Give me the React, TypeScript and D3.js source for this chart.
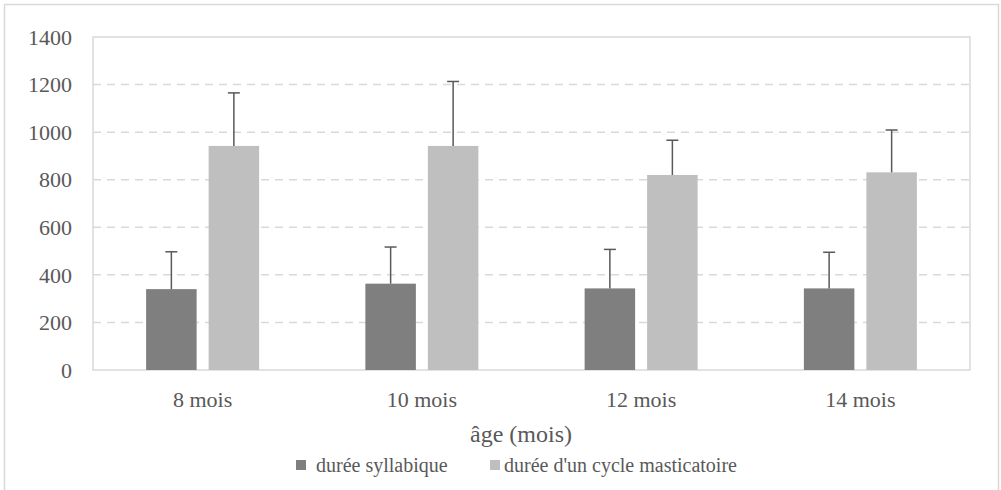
import React from 'react';
import * as d3 from 'd3';

const categories = ['8 mois', '10 mois', '12 mois', '14 mois'];
const seriesNames = ['durée syllabique', "durée d'un cycle masticatoire"];
const syllabique = [340, 363, 343, 343];
const syllabiqueSD = [157, 154, 164, 152];
const cycle = [942, 942, 820, 831];
const cycleSD = [223, 271, 146, 178];
const yTicks = [0, 200, 400, 600, 800, 1000, 1200, 1400];
const colors = ['#7f7f7f', '#bfbfbf'];

export default function App() {
  const width = 1001;
  const height = 490;
  const left = 93;
  const right = 970;
  const top = 37;
  const bottom = 370;
  const textColor = '#595959';
  const txt = (size: number): React.CSSProperties => ({
    fontFamily:
      "'Liberation Serif', Tinos, 'Times New Roman', Times, 'DejaVu Serif', 'Noto Serif', 'FreeSerif', 'Nimbus Roman', 'Nimbus Roman No9 L', serif",
    fontSize: size,
    fill: textColor,
  });

  const x = d3.scaleBand().domain(categories).range([left, right]).padding(0);
  const x1 = d3.scaleBand().domain(seriesNames).range([-56.5, 56.5]).paddingInner(0.192);
  const y = d3.scaleLinear().domain([0, 1400]).range([bottom, top]);

  const series = [
    { name: seriesNames[0], values: syllabique, sd: syllabiqueSD, color: colors[0] },
    { name: seriesNames[1], values: cycle, sd: cycleSD, color: colors[1] },
  ];

  return (
    <svg width={width} height={height} style={{ position: 'absolute', left: 0, top: 0 }}>
      <rect x={0} y={0} width={width} height={height} fill="#fff" />
      <rect x={4.5} y={4.5} width={994} height={height + 10} fill="none" stroke="#d9d9d9" strokeWidth={1.5} />

      {/* grid */}
      {yTicks.filter(t => t > 0 && t < 1400).map(t => (
        <line key={t} x1={left} x2={right} y1={y(t)} y2={y(t)} stroke="#d9d9d9" strokeWidth={1.5} strokeDasharray="8,6" />
      ))}
      <rect x={left} y={top} width={right - left} height={bottom - top} fill="none" stroke="#d9d9d9" strokeWidth={1.5} />

      {/* bars */}
      {series.map(s => (
        <g key={s.name}>
          {categories.map((c, i) => {
            const cx = x(c)! + x.bandwidth() / 2;
            const bx = cx + x1(s.name)!;
            const bw = x1.bandwidth();
            const mid = bx + bw / 2;
            const topVal = s.values[i] + s.sd[i];
            return (
              <g key={c}>
                <rect x={bx} y={y(s.values[i])} width={bw} height={y(0) - y(s.values[i])} fill={s.color} />
                <line x1={mid} x2={mid} y1={y(s.values[i])} y2={y(topVal)} stroke="#595959" strokeWidth={1.5} />
                <line x1={mid - 6} x2={mid + 6} y1={y(topVal)} y2={y(topVal)} stroke="#595959" strokeWidth={1.5} />
              </g>
            );
          })}
        </g>
      ))}

      {/* y ticks */}
      {yTicks.map(t => (
        <text key={t} x={72} y={y(t)} dy="0.35em" textAnchor="end" style={txt(22)}>
          {t}
        </text>
      ))}

      {/* x labels */}
      {categories.map(c => (
        <text key={c} x={x(c)! + x.bandwidth() / 2} y={407} textAnchor="middle" style={txt(22)}>
          {c}
        </text>
      ))}

      <text x={521} y={442} textAnchor="middle" style={txt(24)}>
        âge (mois)
      </text>

      {/* legend */}
      <rect x={296} y={460} width={10} height={10} fill={colors[0]} />
      <text x={316} y={472} style={txt(20)}>{seriesNames[0]}</text>
      <rect x={490} y={460} width={10} height={10} fill={colors[1]} />
      <text x={504} y={472} style={txt(20)}>{seriesNames[1]}</text>
    </svg>
  );
}
